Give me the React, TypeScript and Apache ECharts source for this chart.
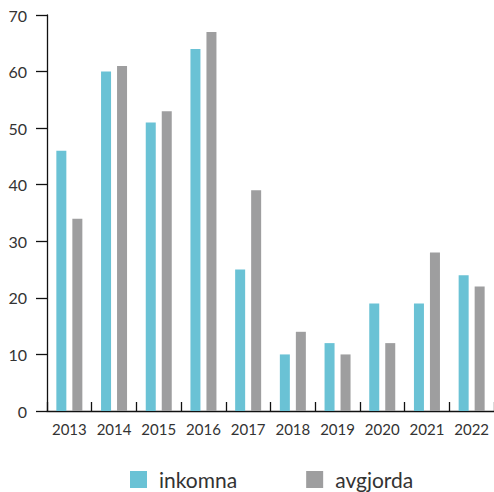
import React, { useEffect, useRef } from "react";
import * as echarts from "echarts";

const years = ["2013", "2014", "2015", "2016", "2017", "2018", "2019", "2020", "2021", "2022"];
const inkomna = [46, 60, 51, 64, 25, 10, 12, 19, 19, 24];
const avgjorda = [34, 61, 53, 67, 39, 14, 10, 12, 28, 22];
const seriesNames = ["inkomna", "avgjorda"];

const FONT = "Lato, 'Noto Sans', sans-serif";

export default function App() {
  const ref = useRef<HTMLDivElement>(null);
  useEffect(() => {
    if (!ref.current) return;
    const chart = echarts.init(ref.current, undefined, { renderer: "svg" });
    chart.setOption({
      animation: false,
      textStyle: { fontFamily: FONT },
      grid: { left: 47, right: 0, top: 15, bottom: 81, containLabel: false, outerBoundsMode: "none" },
      legend: {
        left: 130,
        top: 469,
        padding: 0,
        itemWidth: 17,
        itemHeight: 17,
        itemGap: 69,
        icon: "rect",
        textStyle: { fontSize: 21, color: "#333", fontFamily: FONT, padding: [0, 0, 0, 7] },
        data: seriesNames,
      },
      xAxis: {
        type: "category",
        data: years,
        axisLine: { show: true, lineStyle: { color: "#111", width: 1.3 } },
        axisTick: { show: true, inside: true, length: 9, alignWithLabel: false, interval: 0, lineStyle: { color: "#111", width: 1.3 } },
        axisLabel: { fontSize: 15, color: "#333", margin: 10, interval: 0, fontFamily: FONT },
        splitLine: { show: false },
      },
      yAxis: {
        type: "value",
        min: 0,
        max: 70,
        interval: 10,
        axisLine: { show: true, lineStyle: { color: "#111", width: 1.3 } },
        axisTick: { show: true, length: 11, lineStyle: { color: "#111", width: 1.3 } },
        axisLabel: { fontSize: 16, color: "#333", margin: 20, fontFamily: FONT },
        splitLine: { show: false },
      },
      series: [
        {
          name: seriesNames[0],
          type: "bar",
          data: inkomna,
          barWidth: 10,
          barGap: "60%",
          itemStyle: { color: "#6ac2d5" },
        },
        {
          name: seriesNames[1],
          type: "bar",
          data: avgjorda,
          barWidth: 10,
          barGap: "60%",
          itemStyle: { color: "#9e9e9f" },
        },
      ],
    });
    return () => chart.dispose();
  }, []);
  return <div ref={ref} style={{ position: "absolute", left: 0, top: 0, width: 494, height: 492 }} />;
}
